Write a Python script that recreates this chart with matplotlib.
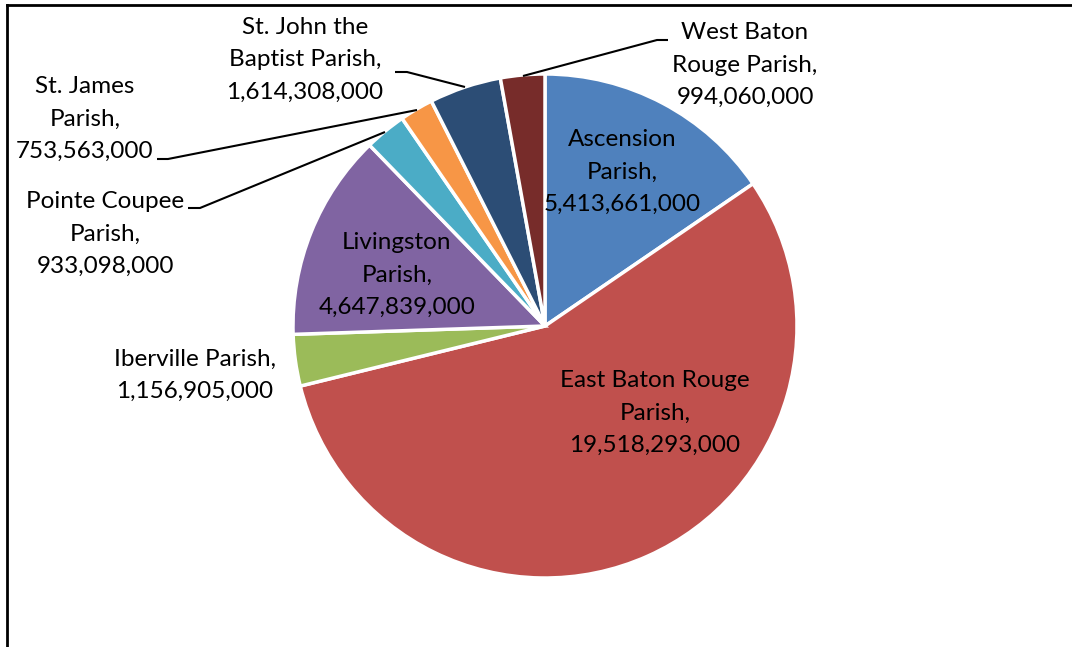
import matplotlib
matplotlib.use("Agg")
import matplotlib.pyplot as plt

parishes = ["Ascension Parish", "East Baton Rouge Parish", "Iberville Parish",
            "Livingston Parish", "Pointe Coupee Parish", "St. James Parish",
            "St. John the Baptist Parish", "West Baton Rouge Parish"]
values = [5413661000, 19518293000, 1156905000, 4647839000,
          933098000, 753563000, 1614308000, 994060000]
colors = ["#4F81BD", "#C0504D", "#9BBB59", "#8064A2",
          "#4BACC6", "#F79646", "#2C4D75", "#772C2A"]
label_text = ["Ascension\nParish,", "East Baton Rouge\nParish,", "Iberville Parish,",
              "Livingston\nParish,", "Pointe Coupee\nParish,", "St. James\nParish,",
              "St. John the\nBaptist Parish,", "West Baton\nRouge Parish,"]

W, H = 1072, 647
fig = plt.figure(figsize=(W / 100, H / 100), dpi=100)
ax = fig.add_axes([0, 0, 1, 1])

cx, cy, r = 545, H - 326, 252
ax.pie(values, colors=colors, startangle=90, counterclock=False,
       center=(cx, cy), radius=r, frame=True,
       wedgeprops=dict(edgecolor="white", linewidth=2.5))
ax.set_xlim(0, W)
ax.set_ylim(0, H)
ax.set_aspect("equal")
ax.axis("off")

# label positions (pixel coords, y from top)
label_pos = [(622, 172), (655, 413), (195, 375), (397, 275),
             (105, 234), (85, 119), (305, 60), (745, 65)]
for name, v, (x, y) in zip(label_text, values, label_pos):
    ax.text(x, H - y, f"{name}\n{v:,}", ha="center", va="center",
            fontsize=17.5, family="Lato", linespacing=1.66, color="black")

# leader lines (pixel coords)
leaders = [
    [(668, 40), (657, 40), (523, 76)],
    [(395, 72), (407, 72), (465, 87)],
    [(157, 159), (168, 159), (417, 110)],
    [(188, 208), (200, 208), (385, 132)],
]
for pts in leaders:
    xs = [p[0] for p in pts]
    ys = [H - p[1] for p in pts]
    ax.plot(xs, ys, color="black", linewidth=1.5, solid_capstyle="butt")

# chart frame (partially visible)
ax.plot([7, 7], [-5, H - 5], color="black", linewidth=2, clip_on=False)
ax.plot([7, W + 5], [H - 5, H - 5], color="black", linewidth=2, clip_on=False)

fig.savefig("out.png", dpi=100)
